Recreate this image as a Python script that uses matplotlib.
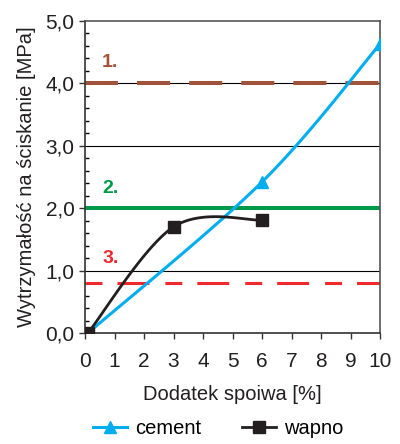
import numpy as np
import matplotlib.pyplot as plt
from matplotlib.lines import Line2D

plt.rcParams['font.family'] = ['Liberation Sans', 'DejaVu Sans']
plt.rcParams['lines.scale_dashes'] = False

# data
cement_x = [0.1, 6.0, 10.0]
cement_y = [0.0, 2.42, 4.63]
wapno_x = [0.1, 3.0, 6.0]
wapno_y = [0.0, 1.70, 1.81]
limit_values = [4.0, 2.0, 0.8]
limit_labels = ['1.', '2.', '3.']
limit_label_y = [4.33, 2.32, 1.2]

c_blue = '#00aeef'
c_black = '#231f20'
c_brown = '#a0533a'
c_green = '#00994a'
c_red = '#ee2a2f'


def smooth(xs, ys, n=40):
    # catmull-rom, like the excel "smoothed line"
    p = np.column_stack([xs, ys]).astype(float)
    p = np.vstack([p[0], p, p[-1]])
    out = []
    for i in range(1, len(p) - 2):
        p0, p1, p2, p3 = p[i - 1], p[i], p[i + 1], p[i + 2]
        t = np.linspace(0, 1, n)[:, None]
        seg = 0.5 * ((2 * p1) + (-p0 + p2) * t + (2 * p0 - 5 * p1 + 4 * p2 - p3) * t ** 2
                     + (-p0 + 3 * p1 - 3 * p2 + p3) * t ** 3)
        out.append(seg)
    out = np.vstack(out)
    return out[:, 0], out[:, 1]


fig = plt.figure(figsize=(4.0, 4.44), dpi=100)
ax = fig.add_axes([0.2125, 0.25, 0.7375, 0.7027])

for v in [1, 2, 3, 4]:
    ax.axhline(v, color='black', lw=0.8, zorder=1)

ax.axhline(limit_values[0], color=c_brown, lw=2.9, dashes=(23.8, 13.7), zorder=2)
ax.axhline(limit_values[1], color=c_green, lw=2.9, zorder=2)
ax.axhline(limit_values[2], color=c_red, lw=2.2, dashes=(12.2, 10.8, 23.0, 11.5), zorder=2)

lab_colors = [c_brown, c_green, c_red]
for lab, ly, col in zip(limit_labels, limit_label_y, lab_colors):
    ax.text(0.58, ly, lab, color=col, fontsize=14, fontweight='bold', ha='left', va='center')

sx, sy = smooth(cement_x, cement_y)
ax.plot(sx, sy, color=c_blue, lw=2.2, zorder=3)
ax.plot(cement_x, cement_y, ls='none', marker='^', ms=9, color=c_blue, zorder=4)

wx, wy = smooth(wapno_x, wapno_y)
ax.plot(wx, wy, color=c_black, lw=2.0, zorder=3)
ax.plot(wapno_x, wapno_y, ls='none', marker='s', ms=9, color=c_black, zorder=5)

ax.set_xlim(0, 10)
ax.set_ylim(0, 5)
ax.set_xticks(range(0, 11))
ax.set_yticks([0, 1, 2, 3, 4, 5])
ax.set_yticklabels(['0,0', '1,0', '2,0', '3,0', '4,0', '5,0'])
ax.set_yticks(np.arange(0, 5.01, 0.2), minor=True)
ax.tick_params(axis='both', labelsize=15, colors='#333333', labelcolor='#231f20')
ax.tick_params(axis='y', which='major', direction='out', length=4.5, width=1, pad=3)
ax.tick_params(axis='y', which='minor', direction='in', length=3, width=1)
ax.tick_params(axis='x', which='major', direction='out', length=4.5, width=1, pad=9)

for s in ['left', 'bottom']:
    ax.spines[s].set_color('#333333')
    ax.spines[s].set_linewidth(1.2)
for s in ['top', 'right']:
    ax.spines[s].set_color('#555555')
    ax.spines[s].set_linewidth(1.2)

ax.set_xlabel('Dodatek spoiwa [%]', fontsize=14.5, color='#231f20', labelpad=10)
ax.set_ylabel('Wytrzymałość na ściskanie [MPa]', fontsize=14.5, color='#231f20', labelpad=7)

handles = [Line2D([], [], color=c_blue, lw=2.2, marker='^', ms=9),
           Line2D([], [], color=c_black, lw=2.0, marker='s', ms=9)]
fig.legend(handles, ['cement', 'wapno'], loc='lower center', bbox_to_anchor=(0.545, -0.028),
           ncol=2, frameon=False, fontsize=14.5, handlelength=1.7, handletextpad=0.4,
           columnspacing=2.0)

fig.savefig('out.png', dpi=100)
